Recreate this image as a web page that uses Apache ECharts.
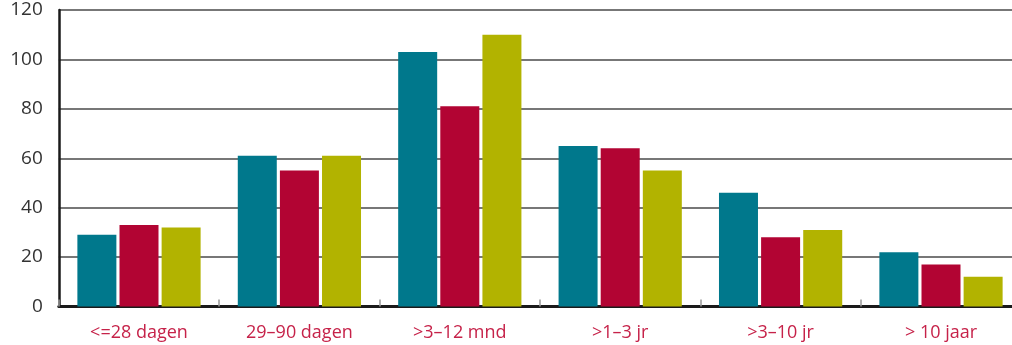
<!DOCTYPE html>
<html>
<head>
<meta charset="utf-8">
<script src="https://cdn.jsdelivr.net/npm/echarts@6/dist/echarts.min.js"></script>
<style>
  html, body { margin: 0; padding: 0; background: #fff; overflow: hidden; }
  #chart { width: 1012px; height: 345px; }
</style>
</head>
<body>
<div id="chart"></div>
<script>
// Duration categories
const categories = ['<=28 dagen', '29\u201390 dagen', '>3\u201312 mnd', '>1\u20133 jr', '>3\u201310 jr', '> 10 jaar'];

// Three series of counts per duration class
const seriesA = [29, 61, 103, 65, 46, 22];
const seriesB = [33, 55, 81, 64, 28, 17];
const seriesC = [32, 61, 110, 55, 31, 12];

const colors = ['#00788C', '#B20433', '#B2B300'];

const chart = echarts.init(document.getElementById('chart'), null, { renderer: 'canvas' });

function bar(data, color) {
  return {
    type: 'bar',
    data: data,
    barWidth: 39,
    barGap: '8%',
    itemStyle: { color: color },
    silent: true
  };
}

chart.setOption({
  animation: false,
  // the last category runs slightly past the right edge of the canvas
  grid: {
    left: 58.8, width: 962.4, top: 10, bottom: 38.5,
    containLabel: false,
    outerBoundsMode: 'none'
  },
  xAxis: {
    type: 'category',
    data: categories,
    axisLine: { show: true, lineStyle: { color: '#1a1a1a', width: 3 } },
    axisTick: { show: true, inside: true, length: 7, lineStyle: { color: '#999', width: 1.5 } },
    axisLabel: {
      color: '#C62249',
      fontFamily: 'Open Sans',
      fontSize: 18,
      margin: 17
    }
  },
  yAxis: {
    type: 'value',
    min: 0,
    max: 120,
    interval: 20,
    axisLine: { show: true, lineStyle: { color: '#1a1a1a', width: 2.5 } },
    axisTick: { show: false },
    axisLabel: {
      color: '#333',
      fontFamily: 'Open Sans',
      fontSize: 19,
      margin: 16
    },
    splitLine: { show: true, lineStyle: { color: '#4a4a4a', width: 1.5 } }
  },
  series: [bar(seriesA, colors[0]), bar(seriesB, colors[1]), bar(seriesC, colors[2])]
});
</script>
</body>
</html>
